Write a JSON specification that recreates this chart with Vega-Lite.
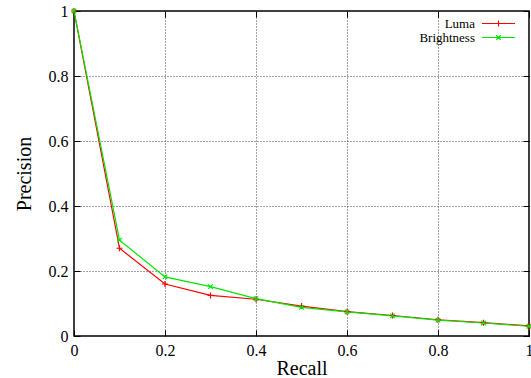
{
  "$schema": "https://vega.github.io/schema/vega-lite/v6.json",
  "width": 455,
  "height": 325,
  "autosize": {"type": "none"},
  "padding": {"left": 74, "top": 11, "right": 2, "bottom": 42},
  "background": "white",
  "config": {
    "font": "Liberation Serif",
    "view": {"stroke": "black", "strokeWidth": 1.5},
    "axis": {
      "domain": false,
      "tickColor": "black",
      "tickSize": -6,
      "tickWidth": 1,
      "labelFont": "Liberation Serif",
      "labelFontSize": 16,
      "labelColor": "black",
      "labelFlush": false,
      "labelOverlap": false,
      "titleFont": "Liberation Serif",
      "titleFontSize": 20,
      "titleFontWeight": "normal",
      "titleColor": "black",
      "gridColor": "#444",
      "gridDash": [1, 2],
      "gridWidth": 1
    }
  },
  "data": {
    "values": [
      {"recall": 0.0, "precision": 1.0, "series": "Luma"},
      {"recall": 0.1, "precision": 0.27, "series": "Luma"},
      {"recall": 0.2, "precision": 0.16, "series": "Luma"},
      {"recall": 0.3, "precision": 0.125, "series": "Luma"},
      {"recall": 0.4, "precision": 0.113, "series": "Luma"},
      {"recall": 0.5, "precision": 0.092, "series": "Luma"},
      {"recall": 0.6, "precision": 0.075, "series": "Luma"},
      {"recall": 0.7, "precision": 0.063, "series": "Luma"},
      {"recall": 0.8, "precision": 0.05, "series": "Luma"},
      {"recall": 0.9, "precision": 0.041, "series": "Luma"},
      {"recall": 1.0, "precision": 0.031, "series": "Luma"},
      {"recall": 0.0, "precision": 1.0, "series": "Brightness"},
      {"recall": 0.1, "precision": 0.295, "series": "Brightness"},
      {"recall": 0.2, "precision": 0.182, "series": "Brightness"},
      {"recall": 0.3, "precision": 0.152, "series": "Brightness"},
      {"recall": 0.4, "precision": 0.115, "series": "Brightness"},
      {"recall": 0.5, "precision": 0.088, "series": "Brightness"},
      {"recall": 0.6, "precision": 0.074, "series": "Brightness"},
      {"recall": 0.7, "precision": 0.062, "series": "Brightness"},
      {"recall": 0.8, "precision": 0.049, "series": "Brightness"},
      {"recall": 0.9, "precision": 0.04, "series": "Brightness"},
      {"recall": 1.0, "precision": 0.03, "series": "Brightness"}
    ]
  },
  "resolve": {"axis": {"x": "independent", "y": "independent"}},
  "layer": [
    {
      "mark": {"type": "line", "strokeWidth": 1.2},
      "encoding": {
        "x": {
          "field": "recall", "type": "quantitative",
          "scale": {"domain": [0, 1], "nice": false, "zero": false},
          "axis": {"title": "Recall", "values": [0, 0.2, 0.4, 0.6, 0.8, 1], "format": "~g", "labelPadding": 12, "titlePadding": 0, "grid": true}
        },
        "y": {
          "field": "precision", "type": "quantitative",
          "scale": {"domain": [0, 1], "nice": false},
          "axis": {"title": "Precision", "values": [0, 0.2, 0.4, 0.6, 0.8, 1], "format": "~g", "labelPadding": 12, "titlePadding": 14, "grid": true}
        },
        "color": {
          "field": "series", "type": "nominal",
          "scale": {"domain": ["Luma", "Brightness"], "range": ["#ff0000", "#00e600"]},
          "legend": {
            "title": null,
            "orient": "none",
            "legendX": 418,
            "legendY": 6,
            "symbolType": "stroke",
            "symbolSize": 100,
            "symbolStrokeWidth": 1.2,
            "labelFont": "Liberation Serif",
            "labelFontSize": 13,
            "labelColor": "black",
            "labelAlign": "right",
            "labelOffset": -30,
            "rowPadding": 0,
            "padding": 0,
            "encode": {
              "symbols": {
                "update": {
                  "shape": {"signal": "datum.value === 'Luma' ? 'M-3.3,0H3.3M0,-0.6V0.6' : 'M-3.3,0H3.3M-0.45,-0.45L0.45,0.45M-0.45,0.45L0.45,-0.45'"},
                  "strokeWidth": {"value": 1.2}
                }
              }
            }
          }
        }
      }
    },
    {
      "transform": [{"filter": "datum.series === 'Luma'"}],
      "mark": {"type": "point", "filled": false, "strokeWidth": 1.2, "size": 36, "opacity": 1, "color": "#ff0000", "shape": "M-1,0H1M0,-1V1"},
      "encoding": {
        "x": {
          "field": "recall", "type": "quantitative",
          "axis": {"orient": "top", "title": null, "labels": false, "grid": false, "values": [0, 0.2, 0.4, 0.6, 0.8, 1]}
        },
        "y": {
          "field": "precision", "type": "quantitative",
          "axis": {"orient": "right", "title": null, "labels": false, "grid": false, "values": [0, 0.2, 0.4, 0.6, 0.8, 1]}
        }
      }
    },
    {
      "transform": [{"filter": "datum.series === 'Brightness'"}],
      "mark": {"type": "point", "filled": false, "strokeWidth": 1.2, "size": 36, "opacity": 1, "color": "#00e600", "shape": "M-0.75,-0.75L0.75,0.75M-0.75,0.75L0.75,-0.75"},
      "encoding": {
        "x": {"field": "recall", "type": "quantitative", "axis": null},
        "y": {"field": "precision", "type": "quantitative", "axis": null}
      }
    }
  ]
}
